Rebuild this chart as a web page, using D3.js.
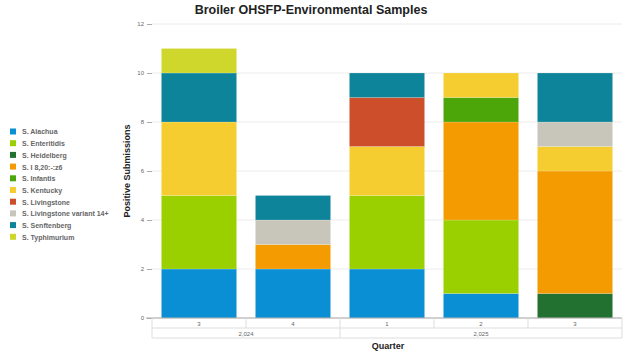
<!DOCTYPE html>
<html>
<head>
<meta charset="utf-8">
<script src="https://cdn.jsdelivr.net/npm/d3@7"></script>
<style>
body{margin:0;background:#fff;font-family:"Liberation Sans",Arial,sans-serif}
</style>
</head>
<body>
<div id="chart"></div>
<script>
// data
var quarters = ["3","4","1","2","3"]
var years = ["2,024","2,024","2,025","2,025","2,025"]
var serotypes = ["S. Alachua","S. Enteritidis","S. Heidelberg","S. I 8,20:-:z6","S. Infantis","S. Kentucky",
                 "S. Livingstone","S. Livingstone variant 14+","S. Senftenberg","S. Typhimurium"]
var colors = ["#0a8fd4","#9bd000","#237130","#f39b00","#4ca60a","#f5cd30","#cc4e2b","#c8c5ba","#0e849a","#cfd72c"]
// counts per serotype, one value per quarter
var alachua      = [2,2,2,1,0]
var enteritidis  = [3,0,3,3,0]
var heidelberg   = [0,0,0,0,1]
var i820z6       = [0,1,0,4,5]
var infantis     = [0,0,0,1,0]
var kentucky     = [3,0,2,1,1]
var livingstone  = [0,0,2,0,0]
var livingstoneV = [0,1,0,0,1]
var senftenberg  = [2,1,1,0,2]
var typhimurium  = [1,0,0,0,0]
var yTicks = [0,2,4,6,8,10,12]

var series = [alachua,enteritidis,heidelberg,i820z6,infantis,kentucky,livingstone,livingstoneV,senftenberg,typhimurium]

var W = 624, H = 354
var margin = {top:24, right:2, bottom:36, left:152}
var width = W - margin.left - margin.right, height = H - margin.top - margin.bottom

var svg = d3.select("#chart").append("svg").attr("width", W).attr("height", H)

// title
svg.append("text").attr("x", 311).attr("y", 14).attr("text-anchor","middle")
    .style("font-weight","bold").style("font-size","12.5px").style("fill","#222")
    .text("Broiler OHSFP-Environmental Samples")

var g = svg.append("g").attr("transform","translate(" + margin.left + "," + margin.top + ")")

var xScale = d3.scaleBand().domain(d3.range(quarters.length)).range([0,width]).paddingInner(0.2).paddingOuter(0.1)
var yScale = d3.scaleLinear().domain([0,12]).range([height,0])

// grid
g.selectAll(".grid").data(yTicks).enter().append("line")
    .attr("x1",0).attr("x2",width)
    .attr("y1",function(d){return yScale(d)}).attr("y2",function(d){return yScale(d)})
    .style("stroke","#ececec").style("stroke-width",1)

// y axis
var yAxis = d3.axisLeft(yScale).tickValues(yTicks).tickSize(5).tickPadding(3)
var ya = g.append("g").call(yAxis)
ya.select(".domain").remove()
ya.selectAll("line").style("stroke","#aaa")
ya.selectAll("text").style("font-size","6px").style("fill","#666").attr("font-family","Liberation Sans, Arial")

svg.append("text").attr("transform","translate(130," + (margin.top + height/2) + ") rotate(-90)")
    .attr("text-anchor","middle").style("font-weight","bold").style("font-size","9px").style("fill","#222")
    .text("Positive Submissions")

// stacked bars
var rows = quarters.map(function(q,i){
    var r = {idx:i}
    serotypes.forEach(function(s,k){ r[s] = series[k][i] })
    return r
})
var stack = d3.stack().keys(serotypes)(rows)
g.selectAll(".layer").data(stack).enter().append("g")
    .style("fill",function(d,k){return colors[k]})
    .selectAll("rect").data(function(d){return d.filter(function(p){return p[1] > p[0]})}).enter().append("rect")
    .attr("x",function(d){return xScale(d.data.idx)})
    .attr("width",xScale.bandwidth())
    .attr("y",function(d){return yScale(d[1])})
    .attr("height",function(d){return yScale(d[0]) - yScale(d[1])})
    .style("stroke","rgba(255,255,255,0.35)").style("stroke-width",0.5)

// x axis: two row table
var xa = g.append("g").attr("transform","translate(0," + height + ")")
xa.append("line").attr("x1",-6).attr("x2",width).attr("y1",0).attr("y2",0).style("stroke","#aaa")
xa.append("line").attr("x1",0).attr("x2",width).attr("y1",10).attr("y2",10).style("stroke","#ddd")
xa.append("line").attr("x1",0).attr("x2",width).attr("y1",20).attr("y2",20).style("stroke","#ddd")
var cellW = width / quarters.length
xa.selectAll(".qsep").data(d3.range(quarters.length + 1)).enter().append("line")
    .attr("x1",function(d){return d*cellW}).attr("x2",function(d){return d*cellW})
    .attr("y1",0).attr("y2",function(d){return (d===0||d===quarters.length||d===2)?20:10})
    .style("stroke","#ddd")
xa.selectAll(".ql").data(quarters).enter().append("text")
    .attr("x",function(d,i){return xScale(i) + xScale.bandwidth()/2})
    .attr("y",7.5).attr("text-anchor","middle").style("font-size","6px").style("fill","#666")
    .text(function(d){return d})
var yearGroups = [{label:years[0], from:0, to:2},{label:years[2], from:2, to:5}]
xa.selectAll(".yl").data(yearGroups).enter().append("text")
    .attr("x",function(d){return (d.from + d.to)/2*cellW})
    .attr("y",17.5).attr("text-anchor","middle").style("font-size","6px").style("fill","#666")
    .text(function(d){return d.label})

svg.append("text").attr("x",388).attr("y",349).attr("text-anchor","middle")
    .style("font-weight","bold").style("font-size","9px").style("fill","#222").text("Quarter")

// legend
var leg = svg.append("g").attr("transform","translate(10,132)")
var item = leg.selectAll(".li").data(serotypes).enter().append("g")
    .attr("transform",function(d,i){return "translate(0," + (i*11.7) + ")"})
item.append("rect").attr("x",0).attr("y",-3.5).attr("width",6).attr("height",6)
    .style("fill",function(d,i){return colors[i]})
item.append("text").attr("x",12).attr("y",2.4).style("font-size","7px").style("fill","#666")
    .style("font-weight","bold").text(function(d){return d})
</script>
</body>
</html>
